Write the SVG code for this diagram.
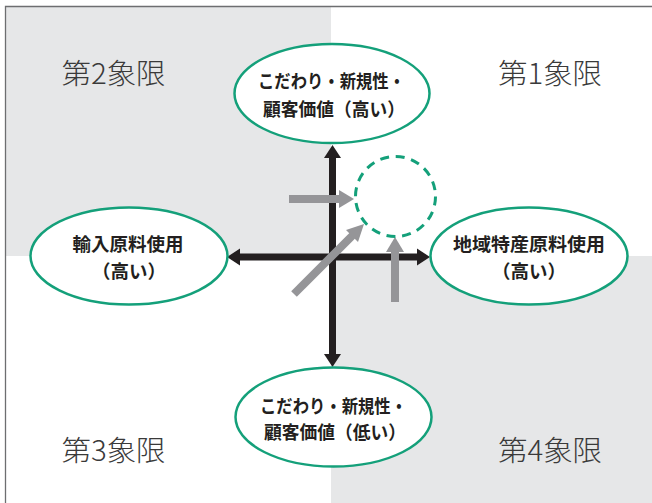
<svg xmlns="http://www.w3.org/2000/svg" width="652" height="503" viewBox="0 0 652 503">
<style>
.q{font-family:"Noto Sans CJK JP","Noto Sans",sans-serif;font-size:28px;font-weight:300;fill:#3a3a3a;text-anchor:middle}
.t{font-family:"Noto Sans CJK JP","Noto Sans",sans-serif;font-size:18.5px;font-weight:700;fill:#231f20;text-anchor:middle}
.el{fill:#fff;stroke:#14a07a;stroke-width:2.5}
.ax{stroke:#231f20;stroke-width:7;fill:none}
.ah{fill:#231f20}
.ga{stroke:#959598;stroke-width:8;fill:none}
.gh{fill:#959598}
</style>
<rect x="0" y="0" width="652" height="503" fill="#fff"/>
<rect x="5" y="6" width="326" height="250" fill="#e6e7e8"/>
<rect x="331" y="256" width="321" height="247" fill="#e6e7e8"/>
<path d="M5.5 503 V6.5 H652" fill="none" stroke="#6d6e70" stroke-width="1.3"/>
<g id="quadrants">
<text class="q" x="113.5" y="84" textLength="104" lengthAdjust="spacingAndGlyphs">第2象限</text>
<text class="q" x="550" y="84" textLength="104" lengthAdjust="spacingAndGlyphs">第1象限</text>
<text class="q" x="113.5" y="461" textLength="104" lengthAdjust="spacingAndGlyphs">第3象限</text>
<text class="q" x="550" y="461" textLength="104" lengthAdjust="spacingAndGlyphs">第4象限</text>
</g>
<g id="connectors">
<line class="ax" x1="332.5" y1="156" x2="332.5" y2="356"/>
<polygon class="ah" points="332.5,145 324,158 341,158"/>
<polygon class="ah" points="332.5,367 324,354 341,354"/>
<line class="ax" x1="238" y1="257" x2="418" y2="257"/>
<polygon class="ah" points="227,257 240,248.5 240,265.5"/>
<polygon class="ah" points="430,257 417,248.5 417,265.5"/>
<line class="ga" x1="289" y1="199" x2="341" y2="199"/>
<polygon class="gh" points="354,199 339,190 339,208"/>
<line class="ga" x1="294" y1="294" x2="355" y2="233"/>
<polygon class="gh" points="364,224 346,230 358,242"/>
<line class="ga" x1="395" y1="302" x2="395" y2="250"/>
<polygon class="gh" points="395,237 386,252 404,252"/>
</g>
<g id="target">
<circle cx="395.5" cy="196.5" r="40" fill="none" stroke="#14a07a" stroke-width="3" stroke-dasharray="9 6.7"/>
</g>
<g id="top">
<ellipse class="el" cx="332" cy="93.5" rx="97.5" ry="49.5"/>
<text class="t" x="331.5" y="88" textLength="147" lengthAdjust="spacingAndGlyphs">こだわり・新規性・</text>
<text class="t" x="334" y="116" textLength="142" lengthAdjust="spacingAndGlyphs">顧客価値（高い）</text>
</g>
<g id="left">
<ellipse class="el" cx="129" cy="256" rx="98.5" ry="48.5"/>
<text class="t" x="128" y="250.5">輸入原料使用</text>
<text class="t" x="129" y="277.5">（高い）</text>
</g>
<g id="right">
<ellipse class="el" cx="529" cy="256" rx="98.5" ry="48.5"/>
<text class="t" x="529" y="250.5" textLength="152" lengthAdjust="spacingAndGlyphs">地域特産原料使用</text>
<text class="t" x="529" y="277.5">（高い）</text>
</g>
<g id="bottom">
<ellipse class="el" cx="333.5" cy="417" rx="98" ry="49.5"/>
<text class="t" x="333.5" y="412.5" textLength="147" lengthAdjust="spacingAndGlyphs">こだわり・新規性・</text>
<text class="t" x="335" y="438.5" textLength="142" lengthAdjust="spacingAndGlyphs">顧客価値（低い）</text>
</g>
</svg>
